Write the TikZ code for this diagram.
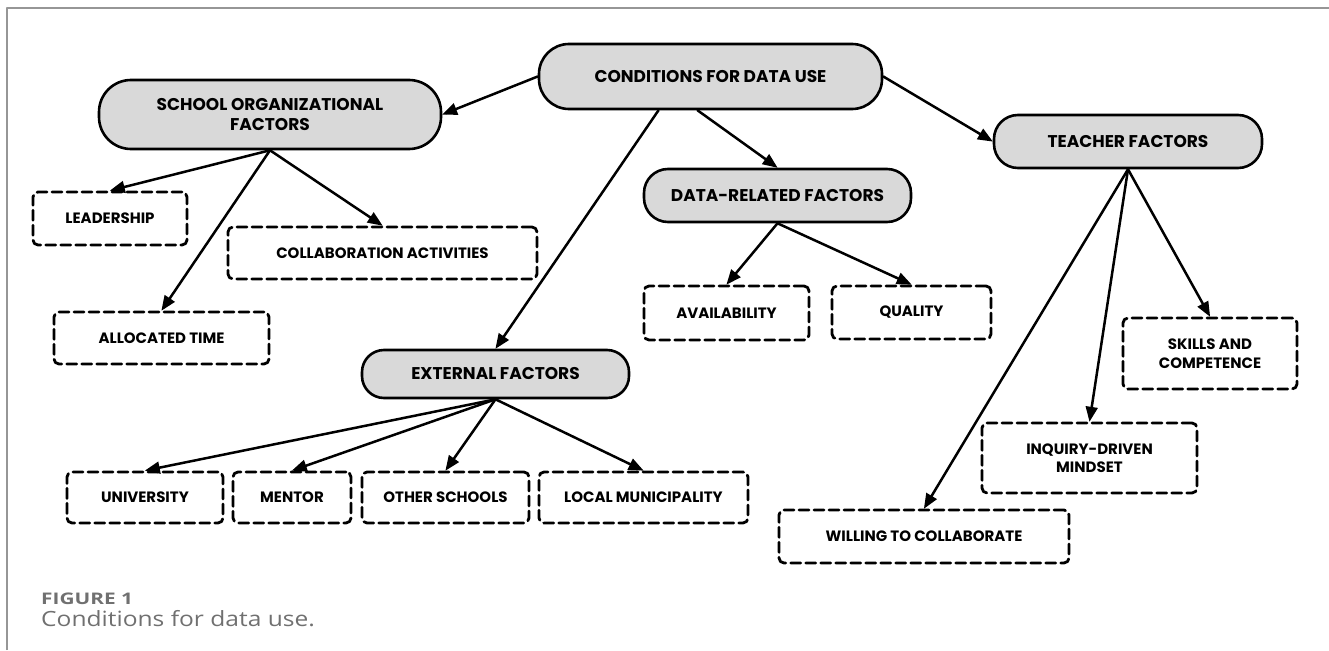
\documentclass[tikz,border=0pt]{standalone}
\usepackage{fontspec}
\setmainfont{Open Sans}
\newfontfamily\boxfont{Poppins}
\usepackage{graphicx}
\usepackage{pgf,tikz}
\usetikzlibrary{arrows}
\definecolor{boxgray}{RGB}{217,217,217}
\definecolor{framegray}{RGB}{150,150,150}
\definecolor{capgray}{RGB}{112,112,112}

\begin{document}
\begin{tikzpicture}[line cap=round,line join=round,>=triangle 45,x=1pt,y=-1pt,
  mainbox/.style={draw=black,line width=2.6pt,fill=boxgray,rounded corners=24pt,align=center,inner sep=0pt,
    font=\boxfont\bfseries\fontsize{17}{20}\selectfont},
  subbox/.style={draw=black,line width=2.8pt,dash pattern=on 10pt off 5pt,rounded corners=5pt,align=center,inner sep=0pt,
    font=\boxfont\bfseries\fontsize{15}{18.5}\selectfont},
  link/.style={->,line width=2.5pt}]
\useasboundingbox (0,0) rectangle (1329,650);
% frame of the figure
\draw[color=framegray,line width=1.5pt,line cap=butt] (7,650) -- (7,8) -- (1329,8);

% factor groups
\node[mainbox,rounded corners=30pt,minimum width=343,minimum height=65] (cond) at (710.5,76.5) {CONDITIONS FOR DATA USE};
\node[mainbox,rounded corners=32pt,minimum width=342,minimum height=69] (school) at (270,114.5) {SCHOOL ORGANIZATIONAL\\FACTORS};
\node[mainbox,minimum width=268,minimum height=53] (teacher) at (1128,141.5) {TEACHER FACTORS};
\node[mainbox,minimum width=267,minimum height=53] (data) at (777.5,195.5) {DATA-RELATED FACTORS};
\node[mainbox,rounded corners=22pt,minimum width=267,minimum height=48] (external) at (495.5,374) {EXTERNAL FACTORS};

% single factors
\node[subbox,minimum width=154,minimum height=53] (leader) at (110,218.5) {LEADERSHIP};
\node[subbox,minimum width=309,minimum height=52] (collab) at (382.5,253) {COLLABORATION ACTIVITIES};
\node[subbox,minimum width=215,minimum height=52] (time) at (161.5,338) {ALLOCATED TIME};
\node[subbox,minimum width=165,minimum height=54] (avail) at (726.5,313) {AVAILABILITY};
\node[subbox,minimum width=159,minimum height=53] (quality) at (911.5,312.5) {QUALITY};
\node[subbox,minimum width=174,minimum height=71] (skills) at (1210,353.5) {SKILLS AND\\COMPETENCE};
\node[subbox,minimum width=215,minimum height=70] (inquiry) at (1089.5,458) {INQUIRY-DRIVEN\\MINDSET};
\node[subbox,minimum width=290,minimum height=53] (willing) at (924,536.5) {WILLING TO COLLABORATE};
\node[subbox,minimum width=156,minimum height=51] (univ) at (145,497.5) {UNIVERSITY};
\node[subbox,minimum width=118,minimum height=51] (mentor) at (292,497.5) {MENTOR};
\node[subbox,minimum width=167,minimum height=51] (schools) at (445.5,497.5) {OTHER SCHOOLS};
\node[subbox,minimum width=209,minimum height=51] (munic) at (643.5,497.5) {LOCAL MUNICIPALITY};

% arrows
\draw[link] (cond.west) -- (school.east);
\draw[link] (cond.east) -- (teacher.west);
\draw[link] ([xshift=-13pt]cond.south) -- (data.north);
\draw[link] ([xshift=-52pt]cond.south) -- (external.north);
\draw[link] (school.south) -- (leader.north);
\draw[link] (school.south) -- (collab.north);
\draw[link] (school.south) -- (time.north);
\draw[link] (data.south) -- (avail.north);
\draw[link] (data.south) -- (quality.north);
\draw[link] (teacher.south) -- (skills.north);
\draw[link] (teacher.south) -- (inquiry.north);
\draw[link] (teacher.south) -- (willing.north);
\draw[link] (external.south) -- (univ.north);
\draw[link] (external.south) -- (mentor.north);
\draw[link] (external.south) -- (schools.north);
\draw[link] (external.south) -- (munic.north);

% caption
\node[anchor=base west,inner sep=0pt,color=capgray,font=\bfseries\fontsize{16}{18}\selectfont] (figno) at (41,604) {\scalebox{1.3}[1]{FIGURE 1}};
\node[anchor=base west,inner sep=0pt,color=capgray,font=\fontsize{21}{23}\selectfont] (figcap) at (41,626) {\scalebox{1.17}[1]{Conditions for data use.}};
\end{tikzpicture}
\end{document}
